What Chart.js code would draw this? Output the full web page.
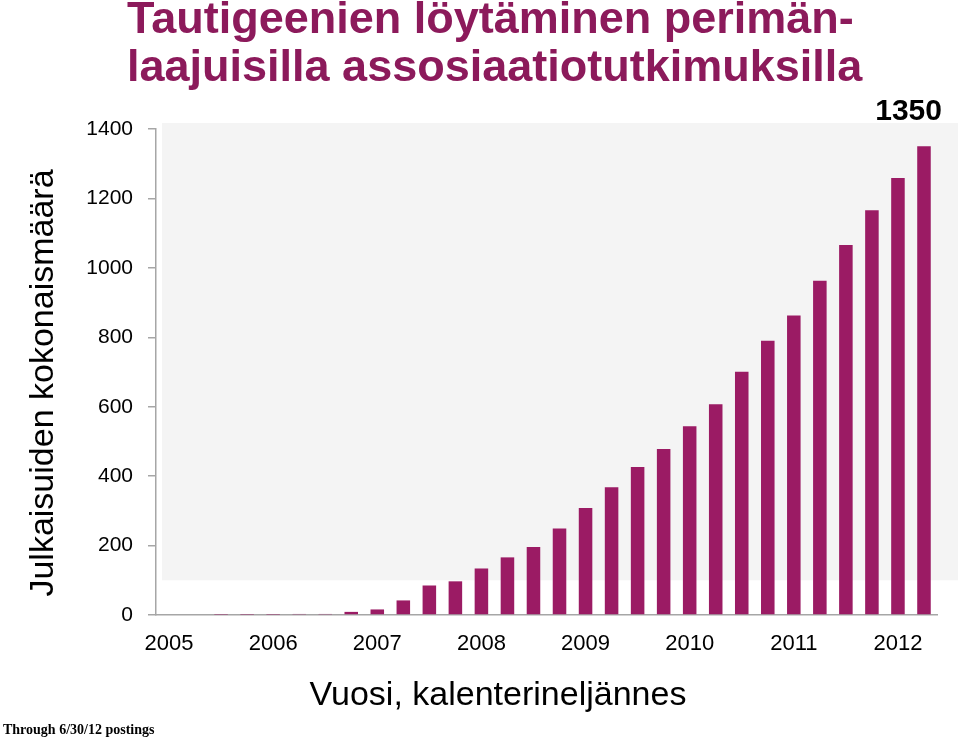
<!DOCTYPE html>
<html>
<head>
<meta charset="utf-8">
<script src="https://cdn.jsdelivr.net/npm/chart.js@4.4.0/dist/chart.umd.min.js"></script>
<style>
  html, body { margin: 0; padding: 0; background: #ffffff; }
  #wrap { width: 960px; height: 738px; position: relative; }
</style>
</head>
<body>
<div id="wrap"><canvas id="c" width="960" height="738"></canvas></div>
<script>
// ---- data ----
const years = ['2005', '2006', '2007', '2008', '2009', '2010', '2011', '2012'];
const quarters = [
  '2005 Q1','2005 Q2','2005 Q3','2005 Q4',
  '2006 Q1','2006 Q2','2006 Q3','2006 Q4',
  '2007 Q1','2007 Q2','2007 Q3','2007 Q4',
  '2008 Q1','2008 Q2','2008 Q3','2008 Q4',
  '2009 Q1','2009 Q2','2009 Q3','2009 Q4',
  '2010 Q1','2010 Q2','2010 Q3','2010 Q4',
  '2011 Q1','2011 Q2','2011 Q3','2011 Q4',
  '2012 Q1','2012 Q2'
];
const publications = [
  0, 0, 1, 1,
  1, 3, 3, 9,
  16, 42, 85, 97,
  134, 166, 196, 249,
  308, 368, 426, 478,
  544, 607, 701, 790,
  863, 963, 1066, 1166,
  1259, 1350
];
const yTicks = [0, 200, 400, 600, 800, 1000, 1200, 1400];
const titleLines = ['Tautigeenien löytäminen perimän-', 'laajuisilla assosiaatiotutkimuksilla'];
const yTitle = 'Julkaisuiden kokonaismäärä';
const xTitle = 'Vuosi, kalenterineljännes';
const footnote = 'Through 6/30/12 postings';
const highlightLabel = String(publications[publications.length - 1]);

const SANS = '"Liberation Sans", Arial, Helvetica, sans-serif';
Chart.defaults.font.family = SANS;
Chart.defaults.color = '#000000';

const decorPlugin = {
  id: 'decor',
  beforeDraw(chart) {
    const { ctx, chartArea, scales } = chart;
    const y = scales.y;
    ctx.save();
    ctx.fillStyle = '#f4f4f4';
    const top = y.getPixelForValue(1400) - 6;
    const bottom = y.getPixelForValue(100);
    const left = chartArea.left + 6;
    const right = chart.width - 2;
    ctx.fillRect(left, top, right - left, bottom - top);
    ctx.restore();
  },
  afterDraw(chart) {
    const { ctx } = chart;
    ctx.save();
    // Title
    ctx.fillStyle = '#8c1a5b';
    ctx.font = 'bold 45px ' + SANS;
    ctx.textAlign = 'left';
    ctx.textBaseline = 'alphabetic';
    ctx.fillText(titleLines[0], 127, 33);
    ctx.fillText(titleLines[1], 127, 81);
    // highlight label above last bar
    const meta = chart.getDatasetMeta(0);
    const last = meta.data[meta.data.length - 1];
    ctx.fillStyle = '#000000';
    ctx.font = 'bold 30px ' + SANS;
    ctx.textAlign = 'right';
    ctx.fillText(highlightLabel, last.x + 18, last.y - 26);
    // axis titles
    ctx.font = '34px ' + SANS;
    ctx.textAlign = 'center';
    ctx.fillText(xTitle, 498, 705);
    ctx.save();
    ctx.translate(53, 383);
    ctx.rotate(-Math.PI / 2);
    ctx.fillText(yTitle, 0, 0);
    ctx.restore();
    // footnote
    ctx.font = 'bold 14px "Liberation Serif", "Times New Roman", serif';
    ctx.textAlign = 'left';
    ctx.fillText(footnote, 3, 734);
    ctx.restore();
  }
};

new Chart(document.getElementById('c'), {
  type: 'bar',
  data: {
    labels: quarters,
    datasets: [{
      data: publications,
      backgroundColor: '#9b1b64',
      borderWidth: 0,
      barPercentage: 0.52,
      categoryPercentage: 1.0
    }]
  },
  options: {
    responsive: false,
    animation: false,
    devicePixelRatio: 1,
    layout: { padding: { top: 129, left: 20, right: 23, bottom: 25 } },
    plugins: {
      legend: { display: false },
      tooltip: { enabled: false },
      title: { display: false }
    },
    scales: {
      x: {
        offset: true,
        grid: { display: false, drawTicks: false },
        border: { display: true, color: '#a6a6a6', width: 1.5 },
        ticks: {
          autoSkip: false,
          maxRotation: 0,
          minRotation: 0,
          padding: 16,
          font: { size: 22 },
          color: '#000000',
          callback: function (value, index) {
            const q = quarters[index];
            return q.endsWith('Q1') ? years[years.indexOf(q.slice(0, 4))] : '';
          }
        },
        title: { display: false },
        afterFit: function (scale) { scale.height = 98; }
      },
      y: {
        min: 0,
        max: 1400,
        afterBuildTicks: function (scale) { scale.ticks = yTicks.map(v => ({ value: v })); },
        grid: { display: true, drawOnChartArea: false, drawTicks: true, tickLength: 8, color: '#a6a6a6', lineWidth: 1.5 },
        border: { display: true, color: '#a6a6a6', width: 1.5 },
        ticks: {
          padding: 15,
          font: { size: 21 },
          color: '#000000',
          callback: function (value) { return String(value); }
        },
        title: { display: false },
        afterFit: function (scale) { scale.width = 136; }
      }
    }
  },
  plugins: [decorPlugin]
});
</script>
</body>
</html>
